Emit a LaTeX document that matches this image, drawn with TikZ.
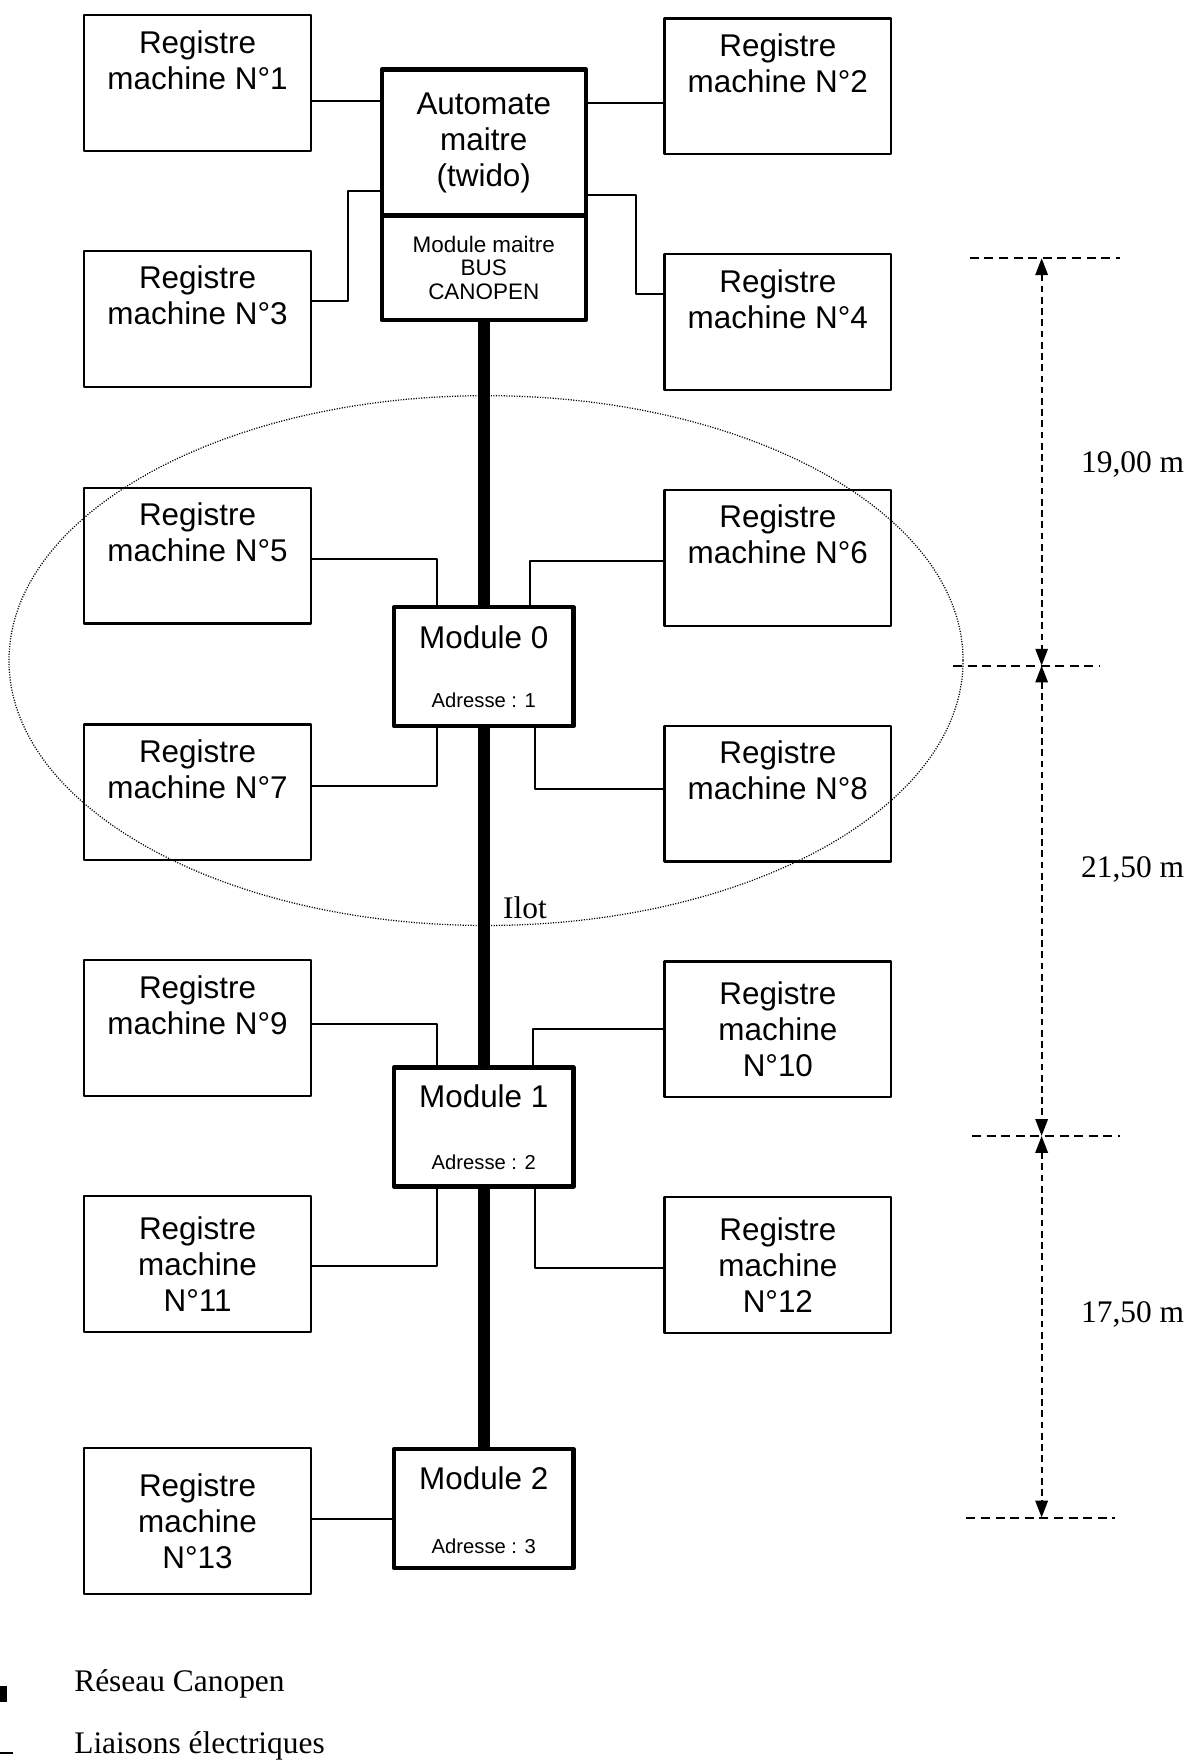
\documentclass[tikz,border=0pt]{standalone}
\usepackage{fontspec}
\setmainfont{Liberation Serif}
\setsansfont{Liberation Sans}
\usetikzlibrary{arrows.meta}
\begin{document}
\begin{tikzpicture}[x=1pt, y=-1pt, line join=round, >={Triangle[length=15pt,width=11pt]},
	reg/.style={draw, line width=2pt, minimum width=202pt, minimum height=121pt, inner sep=2pt, align=center, font=\gros},
	master/.style={draw, line width=3.8pt, minimum width=182pt, minimum height=130pt, inner sep=2pt, align=center, font=\gros},
	modbox/.style={draw, line width=3.8pt, minimum width=160pt, minimum height=106pt, inner sep=0pt},
	wire/.style={line width=1.8pt},
	bus/.style={line width=11pt},
	dim/.style={line width=1.8pt, dash pattern=on 6pt off 4pt},
	tick/.style={line width=1.8pt, dash pattern=on 8pt off 5pt},
	lab/.style={inner sep=0pt, font=\rmfamily\fontsize{28}{32}\selectfont}]
	\def\gros{\sffamily\fontsize{28}{32}\selectfont}
	\def\petit{\sffamily\fontsize{18}{20}\selectfont}
	\useasboundingbox (0,0) rectangle (1060,1568); % vùng lấy hình
	% automate
	\node[master] (auto) at (431,127) {Automate\\maitre\\(twido)};
	\node[master, minimum height=93pt, font=\sffamily\fontsize{20}{21}\selectfont] (canm) at (431,238.5) {Module maitre\\BUS\\CANOPEN};
	% registres
	\node[reg] (r1) at (176,74) {Registre\\machine N°1\\\strut};
	\node[reg] (r2) at (693,77) {Registre\\machine N°2\\\strut};
	\node[reg] (r3) at (176,284) {Registre\\machine N°3\\\strut};
	\node[reg] (r4) at (693,287) {Registre\\machine N°4\\\strut};
	\node[reg] (r5) at (176,495) {Registre\\machine N°5\\\strut};
	\node[reg] (r6) at (693,497) {Registre\\machine N°6\\\strut};
	\node[reg] (r7) at (176,706) {Registre\\machine N°7\\\strut};
	\node[reg] (r8) at (693,707) {Registre\\machine N°8\\\strut};
	\node[reg] (r9) at (176,916) {Registre\\machine N°9\\\strut};
	\node[reg] (r10) at (693,917) {Registre\\machine\\N°10};
	\node[reg] (r11) at (176,1126) {Registre\\machine\\N°11};
	\node[reg] (r12) at (693,1127) {Registre\\machine\\N°12};
	\node[reg, minimum height=130pt] (r13) at (176,1355) {Registre\\machine\\N°13};
	% modules
	\node[modbox] (m0) at (431,594) {};
	\node[anchor=base, font=\gros] (m0n) at ([yshift=-39]m0.north) {Module 0};
	\node[anchor=base, font=\petit] (m0a) at ([yshift=19]m0.south) {Adresse : 1};
	\node[modbox] (m1) at (431,1004) {};
	\node[anchor=base, font=\gros] (m1n) at ([yshift=-38]m1.north) {Module 1};
	\node[anchor=base, font=\petit] (m1a) at ([yshift=17]m1.south) {Adresse : 2};
	\node[modbox] (m2) at (431,1344) {};
	\node[anchor=base, font=\gros] (m2n) at ([yshift=-38]m2.north) {Module 2};
	\node[anchor=base, font=\petit] (m2a) at ([yshift=15]m2.south) {Adresse : 3};
	% bus canopen
	\draw[bus] (canm.south) -- (m0.north);
	\draw[bus] (m0.south) -- (m1.north);
	\draw[bus] (m1.south) -- (m2.north);
	% liaisons
	\draw[wire] ([yshift=-16]r1.east) -- ([yshift=-16]r1.east -| auto.west);
	\draw[wire] ([yshift=-15]r2.west) -- ([yshift=-15]r2.west -| auto.east);
	\draw[wire] ([yshift=16]r3.east) -- ++(32,0) |- ([yshift=-43]auto.west);
	\draw[wire] ([yshift=-47]auto.east) -- ++(43,0) |- ([yshift=25]r4.west);
	\draw[wire] ([yshift=-3]r5.east) -| ([xshift=-42]m0.north);
	\draw[wire] ([yshift=-3]r6.west) -| ([xshift=41]m0.north);
	\draw[wire] ([xshift=-42]m0.south) |- ([yshift=6]r7.east);
	\draw[wire] ([xshift=46]m0.south) |- ([yshift=4]r8.west);
	\draw[wire] ([yshift=4]r9.east) -| ([xshift=-42]m1.north);
	\draw[wire] (r10.west) -| ([xshift=44]m1.north);
	\draw[wire] ([xshift=-42]m1.south) |- ([yshift=-2]r11.east);
	\draw[wire] ([xshift=46]m1.south) |- ([yshift=-3]r12.west);
	\draw[wire] ([yshift=2]r13.east) -- ([yshift=2]r13.east -| m2.west);
	% ilot
	\draw[line width=1.1pt, dash pattern=on 1pt off 1.3pt] (433,588.5) ellipse [x radius=425, y radius=236];
	\node[lab, anchor=base west] (ilot) at (448,818) {Ilot};
	% cotes
	\coordinate (c0) at (928,230);
	\coordinate (c1) at (928,593);
	\coordinate (c2) at (928,1012);
	\coordinate (c3) at (928,1352);
	\draw[tick] ([xshift=-64]c0) -- ([xshift=70]c0);
	\draw[tick] ([xshift=-79]c1) -- ([xshift=52]c1);
	\draw[tick] ([xshift=-62]c2) -- ([xshift=70]c2);
	\draw[tick] ([xshift=-67]c3) -- ([xshift=65]c3);
	\draw[dim,<->] (c0) -- (c1);
	\draw[dim,<->] (c1) -- (c2);
	\draw[dim,<->] (c2) -- (c3);
	\node[lab, anchor=base west] (d1) at (963,421) {19,00 m};
	\node[lab, anchor=base west] (d2) at (963,782) {21,50 m};
	\node[lab, anchor=base west] (d3) at (963,1178) {17,50 m};
	% légende
	\draw[line width=14pt] (0,1509) -- (6,1509);
	\node[lab, anchor=base west] (leg1) at (66,1507) {Réseau Canopen};
	\draw[wire] (0,1562) -- (12,1562);
	\node[lab, anchor=base west] (leg2) at (66,1562) {Liaisons électriques};
\end{tikzpicture}
\end{document}
